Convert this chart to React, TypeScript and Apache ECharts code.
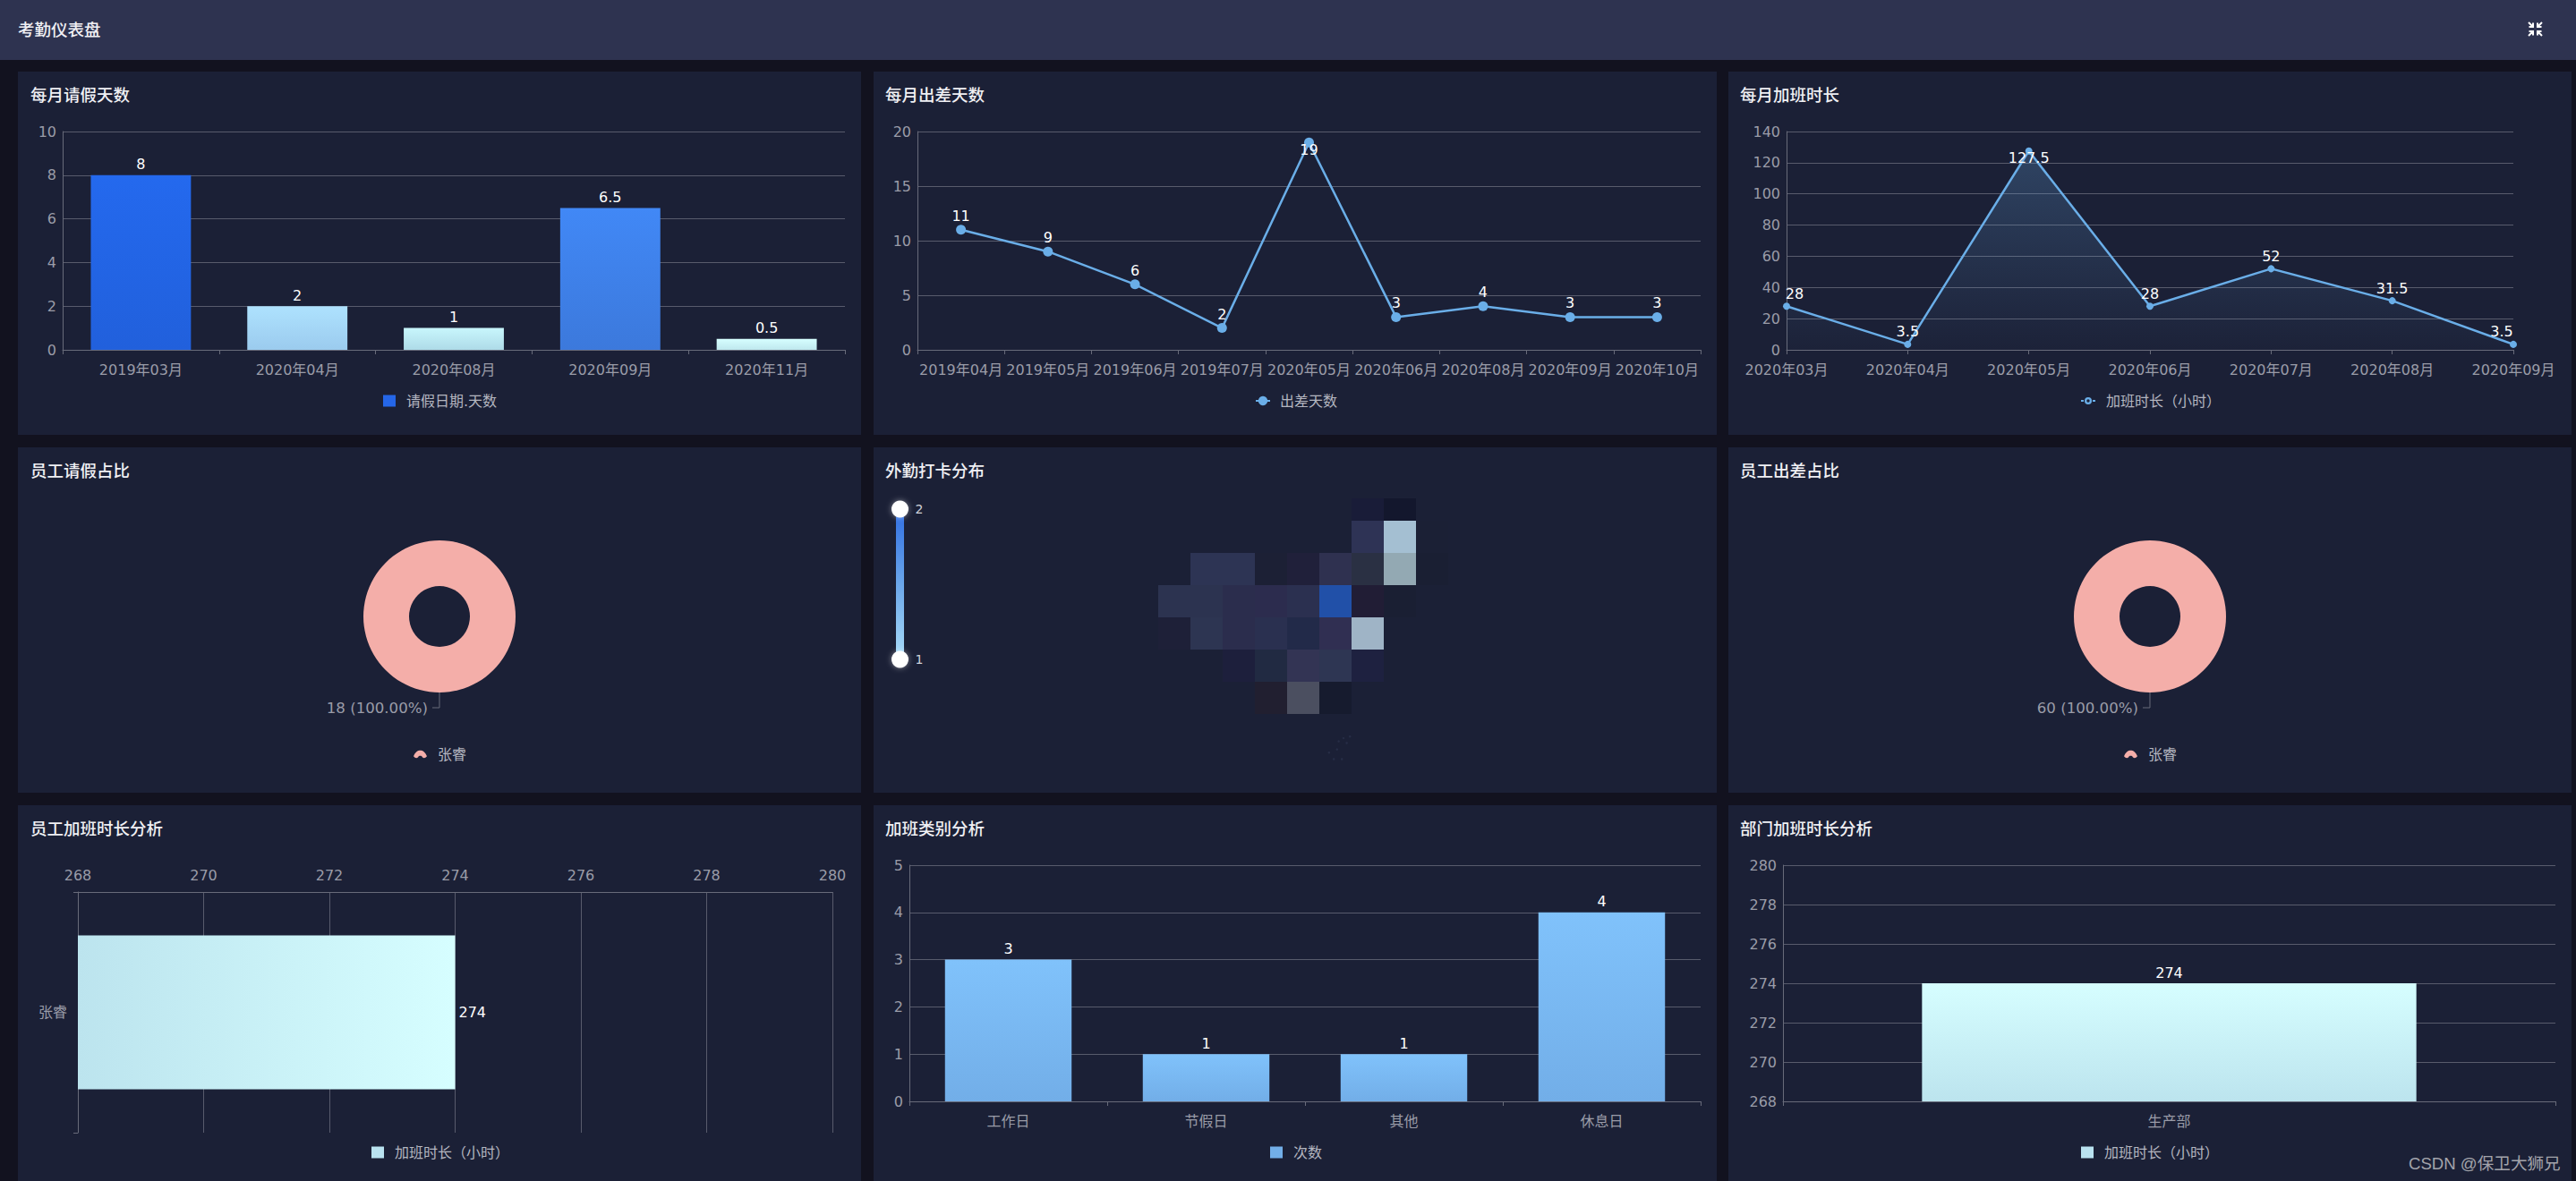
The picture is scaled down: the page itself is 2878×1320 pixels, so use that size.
import React, { useEffect, useRef } from "react";
import * as echarts from "echarts";

// ---------- data ----------
const headerTitle = "考勤仪表盘";
const panelTitles = [
  "每月请假天数", "每月出差天数", "每月加班时长",
  "员工请假占比", "外勤打卡分布", "员工出差占比",
  "员工加班时长分析", "加班类别分析", "部门加班时长分析",
];

const leaveMonths = ["2019年03月", "2020年04月", "2020年08月", "2020年09月", "2020年11月"];
const leaveDays = [8, 2, 1, 6.5, 0.5];
const leaveTop = ["#2469ee", "#aee2fe", "#c8f6fc", "#4188f6", "#d6feff"];
const leaveBottom = ["#2160dc", "#9bcbee", "#aedbe8", "#3c79dc", "#bfe8ee"];

const tripMonths = ["2019年04月", "2019年05月", "2019年06月", "2019年07月", "2020年05月", "2020年06月", "2020年08月", "2020年09月", "2020年10月"];
const tripDays = [11, 9, 6, 2, 19, 3, 4, 3, 3];

const otMonths = ["2020年03月", "2020年04月", "2020年05月", "2020年06月", "2020年07月", "2020年08月", "2020年09月"];
const otHours = [28, 3.5, 127.5, 28, 52, 31.5, 3.5];

const leaveShare = [{ name: "张睿", value: 18 }];
const tripShare = [{ name: "张睿", value: 60 }];

const mapCol = [6, 7, 6, 7, 8, 1, 2, 3, 4, 5, 6, 7, 8, 0, 1, 2, 3, 4, 5, 6, 7, 0, 1, 2, 3, 4, 5, 6, 2, 3, 4, 5, 6, 3, 4, 5];
const mapRow = [0, 0, 1, 1, 1, 2, 2, 2, 2, 2, 2, 2, 2, 3, 3, 3, 3, 3, 3, 3, 3, 4, 4, 4, 4, 4, 4, 4, 5, 5, 5, 5, 5, 6, 6, 6];
const mapFill = [
  "#191c38", "#13172d",
  "#2e3355", "#a4bfd2", "#1b2035",
  "#2d3454", "#2d3454", "#1c2035", "#20203a", "#2f3150", "#2a3043", "#93a9b3", "#1a1f33",
  "#2c3350", "#2c3350", "#2b2d4d", "#2c2c4e", "#2b3050", "#2150a8", "#211d35", "#1a1f33",
  "#1e2038", "#2d3552", "#2b2d4d", "#2a3050", "#222a49", "#302f52", "#9fb4c6",
  "#1d1f3c", "#212a42", "#333454", "#2e3653", "#1e2140",
  "#211f30", "#4b4f60", "#161b2e",
];
const islandDots = [[5.3, 8.2], [5.55, 8.1], [5.6, 7.85], [5.75, 7.75], [5.85, 7.9], [5.95, 7.7], [5.45, 8.4], [5.7, 8.4]];

const staffNames = ["张睿"];
const staffHours = [274];
const otKinds = ["工作日", "节假日", "其他", "休息日"];
const otKindCounts = [3, 1, 1, 4];
const deptNames = ["生产部"];
const deptHours = [274];

const FONT = '"DejaVu Sans", "Noto Sans CJK SC", sans-serif';
const AXIS_TEXT = "#9a9ca8";
const SPLIT = "#585b6c";
const AXIS = "#686b7a";
const LINE = "#6aaee8";

const collapsePath =
  "M1 1L6 6M6 1.5L6 6L1.5 6M16 1L11 6M11 1.5L11 6L15.5 6M1 16L6 11M1.5 11L6 11L6 15.5M16 16L11 11M15.5 11L11 11L11 15.5";
echarts.graphic.registerShape("collapseIcon", (echarts.graphic as any).extendPath(collapsePath, {}));
const archIcon =
  "path://M0 7C2 2 5 0 8 0C11 0 14 2 16 7C14 9.5 12 9.5 10.5 8C10 7 9 6.5 8 6.5C7 6.5 6 7 5.5 8C4 9.5 2 9.5 0 7Z";
const ringIcon =
  "path://M8 0A4 4 0 0 1 8 8A4 4 0 0 1 8 0ZM8 2.3A1.7 1.7 0 0 0 8 5.7A1.7 1.7 0 0 0 8 2.3ZM0 3H3V5H0ZM13 3H16V5H13Z";

const vgrad = (a: string, b: string) => new echarts.graphic.LinearGradient(0, 0, 0, 1, [{ offset: 0, color: a }, { offset: 1, color: b }]);
const hgrad = (a: string, b: string) => new echarts.graphic.LinearGradient(0, 0, 1, 0, [{ offset: 0, color: a }, { offset: 1, color: b }]);

const catAxis = (gridIndex: number, data: string[], extra: any = {}) => ({
  type: "category", gridIndex, data,
  axisLine: { show: true, lineStyle: { color: AXIS, width: 1 } },
  axisTick: { show: true, length: 5, lineStyle: { color: AXIS } },
  axisLabel: { color: AXIS_TEXT, fontSize: 16, margin: 14, interval: 0, fontFamily: FONT },
  splitLine: { show: false },
  ...extra,
});
const valAxis = (gridIndex: number, min: number, max: number, interval: number) => ({
  type: "value", gridIndex, min, max, interval,
  axisLine: { show: true, lineStyle: { color: AXIS } },
  axisTick: { show: false },
  axisLabel: { color: AXIS_TEXT, fontSize: 16, margin: 7, fontFamily: FONT },
  splitLine: { show: true, lineStyle: { color: SPLIT, width: 1 } },
});

const legendBase = {
  itemWidth: 14, itemHeight: 13, padding: 0,
  textStyle: { color: "#b4b6c0", fontSize: 16, fontFamily: FONT, padding: [0, 0, 0, 7] },
};

function buildOption() {
  const panelX = [20, 976, 1931];
  const panelW = [942, 942, 942];
  const rowTop = [80, 500, 900];
  const rowH = [406, 386, 430];
  const titleY = [97, 517, 917];
  const titleX = [34, 989, 1944];

  const titleStyle = { color: "#f0f0f4", fontSize: 18.5, fontWeight: 500, fontFamily: FONT };
  const panels: any[] = [];
  const titles: any[] = [];
  rowTop.forEach((t, r) =>
    panelX.forEach((x, c) => {
      panels.push({ type: "rect", z: -1, shape: { x, y: t, width: panelW[c], height: rowH[r] }, style: { fill: "#1b2036" }, silent: true });
      titles.push({ text: panelTitles[r * 3 + c], left: titleX[c], top: titleY[r], padding: 0, textStyle: titleStyle });
    }),
  );
  titles.push({ text: headerTitle, left: 20, top: 24, padding: 0, textStyle: titleStyle });
  titles.push({ text: "CSDN @保卫大狮兄", left: 2691, top: 1291, padding: 0, textStyle: { color: "#a3a4ab", fontSize: 18.6, fontWeight: 400, fontFamily: '"Liberation Sans", "Noto Sans CJK SC", sans-serif' } });

  const pieCommon = {
    type: "pie", radius: [34, 85], startAngle: 89.99, percentPrecision: 2, avoidLabelOverlap: false,
    label: {
      color: AXIS_TEXT, fontSize: 16.6, fontFamily: FONT,
      formatter: (p: any) => `${p.value} (${Number(p.percent).toFixed(2)}%)`,
    },
    labelLine: { length: 17, length2: 8, lineStyle: { color: AXIS } },
    itemStyle: { color: "#f4aea9" },
  };
  const dataLabel = { show: true, position: "top", color: "#ffffff", fontSize: 16, fontFamily: FONT };
  const handleGlow = { fill: "#ffffff", shadowBlur: 6, shadowColor: "rgba(255,255,255,0.45)" };

  return {
    animation: false,
    backgroundColor: "#12121f",
    textStyle: { fontFamily: FONT },
    title: titles,
    graphic: {
      elements: [
        { type: "rect", z: -1, shape: { x: 0, y: 0, width: 2878, height: 67 }, style: { fill: "#2e3350" }, silent: true },
        ...panels,
        { type: "collapseIcon", x: 2824, y: 24, silent: true, style: { stroke: "#ffffff", lineWidth: 2, fill: "none" } },
        { type: "circle", z: 100, silent: true, shape: { cx: 1005.5, cy: 569, r: 9.5 }, style: handleGlow },
        { type: "circle", z: 100, silent: true, shape: { cx: 1005.5, cy: 737, r: 9.5 }, style: handleGlow },
      ],
    },
    grid: [
      { left: 70, width: 874, top: 147, height: 244 },
      { left: 1025, width: 875, top: 147, height: 244 },
      { left: 1996, width: 812, top: 147, height: 244 },
      { left: 1294, width: 324, top: 557, height: 313 },
      { left: 87, width: 843, top: 997, height: 269 },
      { left: 1016, width: 884, top: 967, height: 264 },
      { left: 1992, width: 863, top: 967, height: 264 },
    ],
    xAxis: [
      catAxis(0, leaveMonths),
      catAxis(1, tripMonths),
      catAxis(2, otMonths, { boundaryGap: false }),
      { type: "value", gridIndex: 3, min: 0, max: 9, show: false },
      {
        ...valAxis(4, 268, 280, 2), position: "top",
        axisLabel: { color: AXIS_TEXT, fontSize: 16, margin: 11, fontFamily: FONT },
      },
      catAxis(5, otKinds),
      catAxis(6, deptNames),
    ],
    yAxis: [
      valAxis(0, 0, 10, 2),
      valAxis(1, 0, 20, 5),
      valAxis(2, 0, 140, 20),
      { type: "value", gridIndex: 3, min: 0.306, max: 9, inverse: true, show: false },
      catAxis(4, staffNames, { axisLabel: { color: AXIS_TEXT, fontSize: 16, margin: 12, fontFamily: FONT } }),
      valAxis(5, 0, 5, 1),
      valAxis(6, 268, 280, 2),
    ],
    legend: [
      { ...legendBase, left: 428, top: 440, data: [{ name: "请假日期.天数", icon: "rect" }] },
      { ...legendBase, itemWidth: 16, left: 1402, top: 440, textStyle: { ...legendBase.textStyle, padding: [0, 0, 0, 6] }, data: ["出差天数"] },
      { ...legendBase, itemWidth: 16, itemHeight: 8, left: 2325, top: 440, data: [{ name: "加班时长（小时）", icon: ringIcon }] },
      { ...legendBase, itemWidth: 15, itemHeight: 9, left: 462, top: 835, data: [{ name: "张睿", icon: archIcon }] },
      { ...legendBase, itemWidth: 15, itemHeight: 9, left: 2373, top: 835, data: [{ name: "张睿 ", icon: archIcon }], formatter: () => "张睿" },
      { ...legendBase, left: 415, top: 1280, data: [{ name: "staffOt", icon: "rect", itemStyle: { color: "#b9e2f0" } }], formatter: () => "加班时长（小时）" },
      { ...legendBase, left: 1419, top: 1280, data: [{ name: "次数", icon: "rect", itemStyle: { color: "#72aee8" } }] },
      { ...legendBase, left: 2325, top: 1280, data: [{ name: "deptOt", icon: "rect", itemStyle: { color: "#b9e2f0" } }], formatter: () => "加班时长（小时）" },
    ],
    visualMap: {
      type: "continuous", min: 1, max: 2, calculable: true, seriesIndex: 5, dimension: 1,
      left: 982, top: 545, itemWidth: 9, itemHeight: 168, precision: 0,
      inRange: { color: ["#a9dcf8", "#6aa6ea", "#2f6de2"] },
      handleIcon: "circle", handleSize: 17,
      handleStyle: { borderWidth: 0 },
      indicatorSize: 0, textGap: -4,
      textStyle: { color: "#d0d2da", fontSize: 14, fontFamily: FONT },
    },
    series: [
      {
        type: "bar", name: "请假日期.天数", xAxisIndex: 0, yAxisIndex: 0, barCategoryGap: "36%",
        itemStyle: { color: "#2566e8" },
        label: { ...dataLabel, distance: 4 },
        data: leaveDays.map((value, i) => ({ value, itemStyle: { color: vgrad(leaveTop[i], leaveBottom[i]) } })),
      },
      {
        type: "line", name: "出差天数", xAxisIndex: 1, yAxisIndex: 1, symbol: "circle", symbolSize: 11,
        lineStyle: { color: LINE, width: 2.5 }, itemStyle: { color: LINE },
        label: { ...dataLabel, distance: 2 },
        data: tripDays.map((value) => (value === 19 ? { value, label: { offset: [0, 24] } } : { value })),
      },
      {
        type: "line", name: "加班时长（小时）", xAxisIndex: 2, yAxisIndex: 2, symbol: "circle", symbolSize: 8,
        lineStyle: { color: LINE, width: 2.5 }, itemStyle: { color: LINE },
        areaStyle: { color: vgrad("rgba(106,174,232,0.36)", "rgba(106,174,232,0.02)") },
        label: { ...dataLabel, distance: 2 },
        data: otHours.map((value, i) => {
          if (i === 0) return { value, label: { offset: [9, 0] } };
          if (i === 2) return { value, label: { offset: [0, 22] } };
          if (i === otHours.length - 1) return { value, label: { offset: [-13, 0] } };
          return { value };
        }),
      },
      { ...pieCommon, name: "员工请假", center: [491, 689], data: leaveShare },
      { ...pieCommon, name: "员工出差", center: [2402, 689], data: tripShare.map((d) => ({ ...d, name: "张睿 " })) },
      {
        type: "custom", name: "外勤打卡", xAxisIndex: 3, yAxisIndex: 3, clip: true, silent: true,
        renderItem: (params: any, api: any) => {
          const c = api.value(0);
          const r = api.value(1);
          const p = api.coord([c, r]);
          const q = api.coord([c + 1, r + 1]);
          return { type: "rect", shape: { x: p[0], y: p[1], width: q[0] - p[0], height: q[1] - p[1] }, style: { fill: mapFill[params.dataIndex] } };
        },
        data: mapCol.map((c, i) => [c, mapRow[i]]),
      },
      {
        type: "scatter", name: "南海诸岛", xAxisIndex: 3, yAxisIndex: 3, silent: true, symbolSize: 2.5,
        itemStyle: { color: "rgba(70,80,110,0.35)" }, data: islandDots,
      },
      {
        type: "bar", name: "staffOt", xAxisIndex: 4, yAxisIndex: 4, barCategoryGap: "36%",
        itemStyle: { color: hgrad("#bce4ee", "#d6feff") },
        label: { show: true, position: "right", color: "#ffffff", fontSize: 16, distance: 4, fontFamily: FONT },
        data: staffHours,
      },
      {
        type: "bar", name: "次数", xAxisIndex: 5, yAxisIndex: 5, barCategoryGap: "36%",
        itemStyle: { color: vgrad("#80c2fb", "#72aee8") },
        label: { ...dataLabel, distance: 4 },
        data: otKindCounts,
      },
      {
        type: "bar", name: "deptOt", xAxisIndex: 6, yAxisIndex: 6, barCategoryGap: "36%",
        itemStyle: { color: vgrad("#d6feff", "#bce4ee") },
        label: { ...dataLabel, distance: 4 },
        data: deptHours,
      },
    ],
  };
}

export default function App() {
  const ref = useRef<HTMLDivElement>(null);
  useEffect(() => {
    document.body.style.margin = "0";
    document.body.style.background = "#12121f";
    const chart = echarts.init(ref.current!, undefined, { renderer: "svg", width: 2878, height: 1320 });
    chart.setOption(buildOption() as any);
    return () => chart.dispose();
  }, []);
  return <div ref={ref} style={{ position: "absolute", left: 0, top: 0, width: 2878, height: 1320, overflow: "hidden" }} />;
}
